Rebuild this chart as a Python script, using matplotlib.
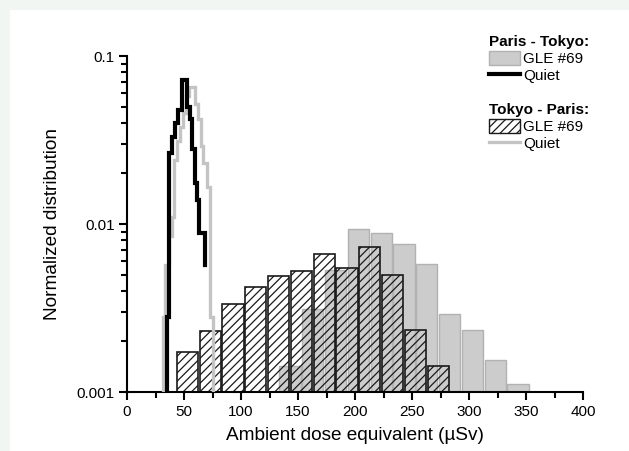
import numpy as np
import matplotlib
matplotlib.use("Agg")
import matplotlib.pyplot as plt
from matplotlib.patches import Patch, Rectangle
from matplotlib.lines import Line2D

plt.rcParams['font.family'] = ['Liberation Sans', 'DejaVu Sans']
plt.rcParams['hatch.linewidth'] = 0.9

# Paris - Tokyo, GLE #69 (grey bars)
pt_gle_x = [143, 163, 183, 203, 223, 243, 263, 283, 303, 323, 343]
pt_gle_y = [0.00143, 0.0031, 0.0053, 0.0094, 0.0088, 0.0076, 0.0058, 0.0029, 0.00233, 0.00154, 0.00111]

# Tokyo - Paris, GLE #69 (hatched bars)
tp_gle_x = [53, 73, 93, 113, 133, 153, 173, 193, 213, 233, 253, 273]
tp_gle_y = [0.00172, 0.00232, 0.00336, 0.00422, 0.00492, 0.00523,
            0.00666, 0.0055, 0.00733, 0.00495, 0.00233, 0.00143]

# Paris - Tokyo, quiet (black step line): bin edges and bin values
pt_quiet_edges = [34.8, 36.5, 39.5, 42, 44.7, 48, 52.8, 55.3, 57.3, 59.6, 61.4, 63.5, 65.5, 68.5]
pt_quiet_vals = [0.0028, 0.0265, 0.033, 0.040, 0.048, 0.072, 0.050, 0.042,
                 0.028, 0.0175, 0.0139, 0.0088, 0.0088]
pt_quiet_end = 0.0057

# Tokyo - Paris, quiet (grey step line)
tp_quiet_edges = [31.5, 33.5, 36.5, 39.5, 41.5, 44, 46.5, 49, 51.5, 54, 59.5,
                  62, 64.5, 67, 70, 72.5, 75.5]
tp_quiet_vals = [0.0028, 0.0057, 0.0085, 0.0110, 0.024, 0.031, 0.038, 0.046,
                 0.058, 0.065, 0.052, 0.042, 0.029, 0.023, 0.0166, 0.0028]
tp_quiet_end = 0.0005

start_level = 0.0005


def step_path(edges, vals, end):
    xs = np.repeat(edges, 2)
    ys = np.concatenate([[start_level], np.repeat(vals, 2), [end]])
    return xs, ys


fig = plt.figure(figsize=(6.29, 4.51), dpi=100)
fig.patch.set_facecolor('#f1f6f3')
fig.patches.append(Rectangle((10 / 629, 0), 1 - 10 / 629, 1 - 10 / 451,
                             transform=fig.transFigure, facecolor='white',
                             edgecolor='none', zorder=-10))

ax = fig.add_axes([127 / 629, 1 - 392 / 451, 456 / 629, 336 / 451])
ax.set_facecolor('none')

ax.bar(pt_gle_x, np.array(pt_gle_y) - 1e-4, bottom=1e-4, width=18.5,
       color='#cccccc', edgecolor='#b2b2b2', linewidth=1.0, zorder=1)
ax.bar(tp_gle_x, np.array(tp_gle_y) - 1e-4, bottom=1e-4, width=18.5,
       fill=False, edgecolor='#1a1a1a', hatch='////', linewidth=1.2, zorder=2)

x, y = step_path(pt_quiet_edges, pt_quiet_vals, pt_quiet_end)
ax.plot(x, y, color='black', lw=3.0, solid_joinstyle='miter', zorder=4)
x, y = step_path(tp_quiet_edges, tp_quiet_vals, tp_quiet_end)
ax.plot(x, y, color='#c4c4c4', lw=2.4, solid_joinstyle='miter', zorder=3)

ax.set_yscale('log')
ax.set_xlim(0, 400)
ax.set_ylim(0.001, 0.1)
ax.set_xticks(np.arange(0, 401, 50))
ax.set_xticks(np.arange(25, 400, 50), minor=True)
ax.set_yticks([0.001, 0.01, 0.1])
ax.set_yticklabels(['0.001', '0.01', '0.1'])

for s in ['top', 'right']:
    ax.spines[s].set_visible(False)
for s in ['left', 'bottom']:
    ax.spines[s].set_linewidth(1.5)
ax.tick_params(which='major', direction='out', length=6, width=1.5, labelsize=11, pad=3)
ax.tick_params(which='minor', direction='out', length=4, width=1.5)

ax.set_xlabel('Ambient dose equivalent (\u00b5Sv)', fontsize=13.7, labelpad=6)
ax.set_ylabel('Normalized distribution', fontsize=13.7, labelpad=11)

h1 = [Patch(facecolor='#cccccc', edgecolor='#b2b2b2'),
      Line2D([], [], color='black', lw=3)]
h2 = [Patch(fill=False, edgecolor='#1a1a1a', hatch='////'),
      Line2D([], [], color='#c4c4c4', lw=2.4)]
leg_kw = dict(loc='upper left', frameon=False, fontsize=11, title_fontsize=11,
              alignment='left', handlelength=2.0, handleheight=1.0,
              handletextpad=0.25, labelspacing=0.12, borderpad=0, borderaxespad=0)
leg1 = fig.legend(h1, ['GLE #69', 'Quiet'], title='Paris - Tokyo:',
                  bbox_to_anchor=(489 / 629, 1 - 35 / 451), **leg_kw)
leg1.get_title().set_fontweight('bold')
leg2 = fig.legend(h2, ['GLE #69', 'Quiet'], title='Tokyo - Paris:',
                  bbox_to_anchor=(489 / 629, 1 - 103 / 451), **leg_kw)
leg2.get_title().set_fontweight('bold')

fig.savefig('out.png', dpi=100, facecolor=fig.get_facecolor())
